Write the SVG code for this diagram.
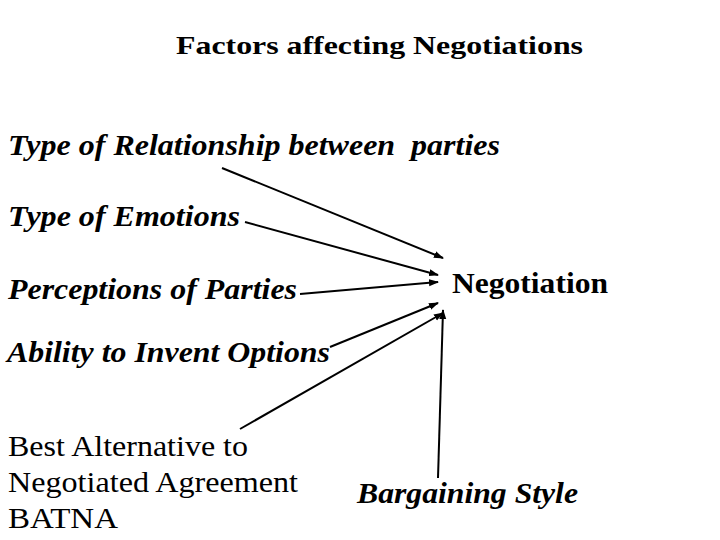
<svg xmlns="http://www.w3.org/2000/svg" width="720" height="540" viewBox="0 0 720 540" font-family="'Liberation Serif', 'Times New Roman', serif">
<defs>
<marker id="ah" viewBox="0 0 10 10" refX="9" refY="5" markerWidth="10" markerHeight="10" markerUnits="userSpaceOnUse" orient="auto">
<path d="M0,1.5 L10,5 L0,8.5 Z" fill="#000"/>
</marker>
<style>
text{fill:#000}
.bi{font-weight:bold;font-style:italic;font-size:30px}
.b{font-weight:bold;font-size:30px}
.r{font-size:30px}
.t{font-weight:bold;font-size:26px}
.c line{stroke:#000;stroke-width:2;marker-end:url(#ah)}
</style>
</defs>
<rect width="720" height="540" fill="#fff"/>
<text class="t" x="176" y="54" textLength="407" lengthAdjust="spacingAndGlyphs">Factors affecting Negotiations</text>
<g id="n-relationship"><text class="bi" x="8" y="155" textLength="492" lengthAdjust="spacingAndGlyphs" xml:space="preserve">Type of Relationship between  parties</text></g>
<g id="n-emotions"><text class="bi" x="8" y="226" textLength="232" lengthAdjust="spacingAndGlyphs">Type of Emotions</text></g>
<g id="n-perceptions"><text class="bi" x="8" y="299" textLength="289" lengthAdjust="spacingAndGlyphs">Perceptions of Parties</text></g>
<g id="n-ability"><text class="bi" x="7" y="362" textLength="323" lengthAdjust="spacingAndGlyphs">Ability to Invent Options</text></g>
<g id="n-batna">
<text class="r" x="8" y="456" textLength="240" lengthAdjust="spacingAndGlyphs">Best Alternative to</text>
<text class="r" x="8" y="492" textLength="290" lengthAdjust="spacingAndGlyphs">Negotiated Agreement</text>
<text class="r" x="8" y="528" textLength="110" lengthAdjust="spacingAndGlyphs">BATNA</text>
</g>
<g id="n-negotiation"><text class="b" x="452" y="293" textLength="156" lengthAdjust="spacingAndGlyphs">Negotiation</text></g>
<g id="n-bargaining"><text class="bi" x="357" y="503" textLength="221" lengthAdjust="spacingAndGlyphs">Bargaining Style</text></g>
<g id="connectors" class="c">
<line x1="222" y1="168" x2="443" y2="258"/>
<line x1="245" y1="222" x2="438" y2="275"/>
<line x1="300" y1="294" x2="438" y2="282"/>
<line x1="330" y1="347" x2="438" y2="303"/>
<line x1="240" y1="429" x2="443" y2="313"/>
<line x1="438" y1="478" x2="443" y2="310"/>
</g>
</svg>
